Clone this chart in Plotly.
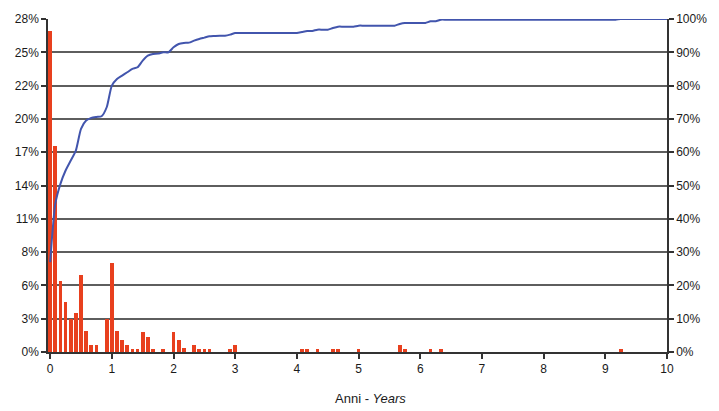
import plotly.graph_objects as go

# Monthly distribution (percent of cases) and its cumulative share
bar_months = [0, 1, 2, 3, 4, 5, 6, 7, 8, 9, 11, 12, 13, 14, 15, 16, 17, 18, 19, 20,
              22, 24, 25, 26, 28, 29, 30, 31, 35, 36, 49, 50, 52, 55, 56, 60, 68, 69,
              74, 76, 111]
bar_pct = [27.0, 17.3, 6.0, 4.2, 2.8, 3.3, 6.5, 1.8, 0.6, 0.6, 2.8, 7.5, 1.8, 1.0, 0.6,
           0.25, 0.25, 1.7, 1.3, 0.25, 0.25, 1.7, 1.0, 0.3, 0.55, 0.25, 0.25, 0.25,
           0.25, 0.6, 0.25, 0.25, 0.25, 0.25, 0.25, 0.25, 0.55, 0.25, 0.25, 0.25, 0.25]

cum_months = list(range(0, 121))
cum_pct = [27.0, 44.5, 50.5, 54.5, 57.5, 60.5, 67.0, 69.5, 70.3, 70.6, 70.8, 73.5,
           80.0, 82.0, 83.0, 84.0, 85.0, 85.5, 87.5, 89.0, 89.5, 89.6, 90.0, 90.0,
           91.5, 92.5, 92.8, 92.9, 93.5, 94.0, 94.4, 94.8, 94.9, 95.0, 95.0, 95.3,
           95.8, 95.8, 95.8, 95.8, 95.8, 95.8, 95.8, 95.8, 95.8, 95.8, 95.8, 95.8,
           95.8, 96.1, 96.4, 96.4, 96.8, 96.8, 96.8, 97.3, 97.7, 97.7, 97.7, 97.7,
           98.0, 98.0, 98.0, 98.0, 98.0, 98.0, 98.0, 98.0, 98.5, 98.8, 98.8, 98.8,
           98.8, 98.8, 99.3, 99.3, 99.8, 99.8, 99.8, 99.8, 99.8, 99.8, 99.8, 99.8,
           99.8, 99.8, 99.8, 99.8, 99.8, 99.8, 99.8, 99.8, 99.8, 99.8, 99.8, 99.8,
           99.8, 99.8, 99.8, 99.8, 99.8, 99.8, 99.8, 99.8, 99.8, 99.8, 99.8, 99.8,
           99.8, 99.8, 99.8, 100, 100, 100, 100, 100, 100, 100, 100, 100, 100]

left_tickvals = [0, 0.028, 0.056, 0.084, 0.112, 0.14, 0.168, 0.196, 0.224, 0.252, 0.28]
left_ticktext = ["0%", "3%", "6%", "8%", "11%", "14%", "17%", "20%", "22%", "25%", "28%"]
x_ticks = list(range(0, 11))

FONT = dict(family="Liberation Sans, Arial, sans-serif", size=12, color="#1a1a1a")
AXIS_COLOR = "#333333"

fig = go.Figure()
fig.add_trace(go.Bar(
    x=[m / 12 for m in bar_months],
    y=[v / 100 for v in bar_pct],
    width=0.06,
    marker=dict(color="#e8401e", line=dict(width=0)),
    yaxis="y",
))
fig.add_trace(go.Scatter(
    x=[m / 12 for m in cum_months],
    y=[v / 100 for v in cum_pct],
    mode="lines",
    line=dict(color="#4255ad", width=2, shape="spline", smoothing=0.6),
    yaxis="y2",
))

fig.update_layout(
    width=719, height=411,
    margin=dict(l=48, r=49, t=18, b=59),
    paper_bgcolor="white", plot_bgcolor="white",
    showlegend=False,
    font=FONT,
    bargap=0,
    xaxis=dict(
        range=[-0.035, 10], tickvals=x_ticks, ticktext=[str(t) for t in x_ticks],
        showgrid=False, zeroline=False,
        showline=True, linecolor=AXIS_COLOR, linewidth=1.5,
        ticks="outside", ticklen=5, tickcolor=AXIS_COLOR, tickwidth=1.5,
        tickfont=FONT,
    ),
    yaxis=dict(
        range=[0, 0.28], tickvals=left_tickvals, ticktext=left_ticktext,
        showgrid=True, gridcolor="#5e5e5e", gridwidth=2,
        zeroline=False, showline=True, linecolor=AXIS_COLOR, linewidth=1.5,
        ticks="outside", ticklen=5, tickcolor=AXIS_COLOR, tickwidth=1.5,
        tickfont=FONT,
    ),
    yaxis2=dict(
        range=[0, 1], dtick=0.1, tickformat=".0%",
        overlaying="y", side="right", anchor="x",
        showgrid=False, zeroline=False,
        showline=True, linecolor=AXIS_COLOR, linewidth=1.5,
        ticks="outside", ticklen=5, tickcolor=AXIS_COLOR, tickwidth=1.5,
        tickfont=FONT,
    ),
    annotations=[dict(
        text="Anni - <i>Years</i>", x=0.521, y=0, xref="paper", yref="paper",
        yshift=-46, xanchor="center", yanchor="middle", showarrow=False,
        font=dict(family="Liberation Sans, Arial, sans-serif", size=13, color="#1a1a1a"),
    )],
)

fig.write_html("out.html")
